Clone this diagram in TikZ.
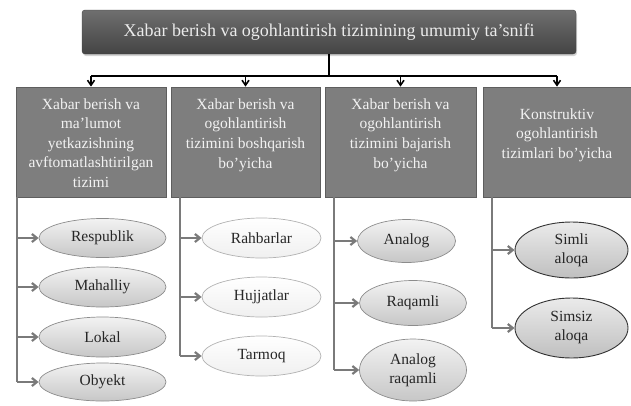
\documentclass[tikz,border=0pt]{standalone}
\usepackage{fontspec}
\setmainfont{Liberation Serif}
\newfontfamily\tnr{Liberation Serif}
\usetikzlibrary{shapes.geometric,arrows.meta,shadows}
\definecolor{topfill}{HTML}{555555}
\definecolor{catfill}{HTML}{7E7E7E}
\definecolor{catdraw}{HTML}{5E5E5E}
\definecolor{conn}{HTML}{7A7A7A}
\tikzset{
  topbox/.style={draw=topfill!80!black, top color=topfill!85!white, bottom color=topfill!80!black, rounded corners=3pt, minimum width=494pt, minimum height=44pt, inner sep=0pt, text=white!92!black, font=\tnr\fontsize{18}{21}\selectfont, drop shadow={opacity=0.35, shadow xshift=1pt, shadow yshift=-2pt}},
  catbox/.style={draw=catdraw, line width=0.8pt, fill=catfill, minimum height=110pt, inner sep=0pt},
  cattext/.style={text=white!95!black, align=center, font=\tnr\fontsize{15.5}{19.6}\selectfont, inner sep=0pt},
  ellA/.style={ellipse, draw=black!45, line width=0.7pt, top color=white!95!black, bottom color=black!22, inner sep=0pt, text=black!85, align=center, font=\tnr\fontsize{15.5}{19}\selectfont},
  ellB/.style={ellipse, draw=black!30, line width=0.7pt, top color=white, bottom color=black!6, inner sep=0pt, text=black!85, align=center, font=\tnr\fontsize{15.5}{19}\selectfont},
  ellD/.style={ellipse, draw=black!80, line width=0.9pt, top color=white!92!black, bottom color=black!25, inner sep=0pt, text=black!85, align=center, font=\tnr\fontsize{15.5}{19}\selectfont},
  blk/.style={draw=black, line width=1.6pt},
  blkarrow/.style={draw=black, line width=1.6pt, -{Straight Barb[length=5pt,width=7pt]}},
  grayline/.style={draw=conn, line width=2.2pt},
  grayarrow/.style={draw=conn, line width=2.2pt, -{Straight Barb[length=5pt,width=8pt]}}
}
\begin{document}
\begin{tikzpicture}[x=1pt,y=-1pt]
\useasboundingbox (0,0) rectangle (631,405);
% top
\node[topbox] (top) at (329,32) {Xabar berish va ogohlantirish tizimining umumiy ta’snifi};
% category boxes
\node[catbox, minimum width=150pt] (c1) at (91,142) {};
\node[catbox, minimum width=149pt] (c2) at (245.5,142) {};
\node[catbox, minimum width=151pt] (c3) at (400.5,142) {};
\node[catbox, minimum width=148pt] (c4) at (557,142) {};
\node[cattext] (t1) at (91,143) {Xabar berish va\\ma’lumot\\yetkazishning\\avftomatlashtirilgan\\tizimi};
\node[cattext] (t2) at (245.5,135) {Xabar berish va\\ogohlantirish\\tizimini boshqarish\\bo’yicha};
\node[cattext] (t3) at (400.5,135) {Xabar berish va\\ogohlantirish\\tizimini bajarish\\bo’yicha};
\node[cattext] (t4) at (557,135) {Konstruktiv\\ogohlantirish\\tizimlari bo’yicha};
% top connectors
\coordinate (hub) at (329,76);
\coordinate (h1) at (91,76);
\coordinate (h2) at (245.5,76);
\coordinate (h3) at (400.5,76);
\coordinate (h4) at (557,76);
\draw[blk] (top.south) -- (hub);
\draw[blk] (h1) -- (h4);
\draw[blkarrow] (h1) -- (c1.north);
\draw[blkarrow] (h2) -- (c2.north);
\draw[blkarrow] (h3) -- (c3.north);
\draw[blkarrow] (h4) -- (c4.north);
% column 1
\node[ellA, minimum width=127pt, minimum height=39pt] (e11) at (102.5,238) {Respublik};
\node[ellA, minimum width=127pt, minimum height=40pt] (e12) at (102.5,287) {Mahalliy};
\node[ellA, minimum width=127pt, minimum height=40pt] (e13) at (102.5,337) {Lokal};
\node[ellA, minimum width=127pt, minimum height=38pt] (e14) at (102.5,382) {Obyekt};
\coordinate (v1a) at (17,197);
\coordinate (v1b) at (17,382);
\draw[grayline] (v1a) -- (v1b);
\draw[grayarrow] (17,238) -- (e11.west);
\draw[grayarrow] (17,287) -- (e12.west);
\draw[grayarrow] (17,337) -- (e13.west);
\draw[grayarrow] (v1b) -- (e14.west);
% column 2
\node[ellB, minimum width=119pt, minimum height=40pt] (e21) at (261.5,238) {Rahbarlar};
\node[ellB, minimum width=119pt, minimum height=40pt] (e22) at (261.5,297) {Hujjatlar};
\node[ellB, minimum width=119pt, minimum height=40pt] (e23) at (261.5,356) {Tarmoq};
\coordinate (v2a) at (180,197);
\coordinate (v2b) at (180,356);
\draw[grayline] (v2a) -- (v2b);
\draw[grayarrow] (180,238) -- (e21.west);
\draw[grayarrow] (180,297) -- (e22.west);
\draw[grayarrow] (v2b) -- (e23.west);
% column 3
\node[ellA, minimum width=98pt, minimum height=43pt] (e31) at (406.5,241) {Analog};
\node[ellA, minimum width=107pt, minimum height=45pt] (e32) at (413,303) {Raqamli};
\node[ellA, minimum width=107pt, minimum height=62pt] (e33) at (413,370) {Analog\\raqamli};
\coordinate (v3a) at (334,197);
\coordinate (v3b) at (334,370);
\draw[grayline] (v3a) -- (v3b);
\draw[grayarrow] (334,241) -- (e31.west);
\draw[grayarrow] (334,303) -- (e32.west);
\draw[grayarrow] (v3b) -- (e33.west);
% column 4
\node[ellD, minimum width=113pt, minimum height=56pt] (e41) at (571.5,250) {Simli\\aloqa};
\node[ellD, minimum width=113pt, minimum height=60pt] (e42) at (571.5,328) {Simsiz\\aloqa};
\coordinate (v4a) at (492,197);
\coordinate (v4b) at (492,328);
\draw[grayline] (v4a) -- (v4b);
\draw[grayarrow] (492,250) -- (e41.west);
\draw[grayarrow] (v4b) -- (e42.west);
\end{tikzpicture}
\end{document}
